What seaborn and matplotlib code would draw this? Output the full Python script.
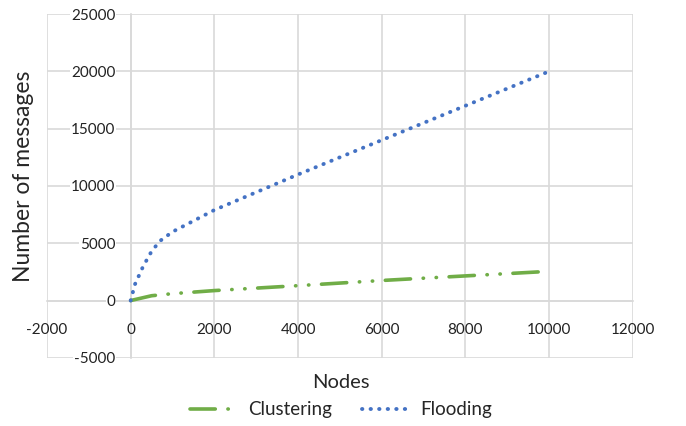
import numpy as np
import pandas as pd
import seaborn as sns
import matplotlib.pyplot as plt

nodes_clu = [0, 500, 1000, 2000, 4000, 6000, 8000, 10000]
clustering = [0, 420, 600, 870, 1300, 1750, 2150, 2550]
nodes_flo = [0, 100, 300, 500, 700, 1000, 2000, 4000, 6000, 8000, 10000]
flooding = [0, 1400, 3000, 4300, 5200, 6000, 7900, 11000, 14000, 17000, 20000]

x_ticks = [-2000, 0, 2000, 4000, 6000, 8000, 10000, 12000]
y_ticks = [-5000, 0, 5000, 10000, 15000, 20000, 25000]

sns.set_style("white")
plt.rcParams['font.family'] = ['Lato', 'DejaVu Sans']
plt.rcParams['axes.unicode_minus'] = False

fig = plt.figure(figsize=(6.86, 4.26), dpi=100)
ax = fig.add_axes([0.0685, 0.16, 0.854, 0.807])

sns.lineplot(x=nodes_clu, y=clustering, ax=ax, color="#70AD47", lw=2.6,
             linestyle=(0, (7, 3.5, 0.1, 3.5, 0.1, 3.5)),
             dash_capstyle="round", label="Clustering", sort=False)
sns.lineplot(x=nodes_flo, y=flooding, ax=ax, color="#4472C4", lw=2.8,
             linestyle=(0, (0.1, 2.1)),
             dash_capstyle="round", label="Flooding", sort=False)

ax.set_xlim(-2000, 12000)
ax.set_ylim(-5000, 25000)
ax.set_xticks(x_ticks)
ax.set_yticks(y_ticks)
ax.grid(True, color="#D9D9D9", lw=1.2)
ax.set_axisbelow(True)

# axes cross at zero like in excel
for s in ["top", "right"]:
    ax.spines[s].set_visible(False)
ax.spines["left"].set_position(("data", 0))
ax.spines["bottom"].set_position(("data", 0))
for s in ["left", "bottom"]:
    ax.spines[s].set_color("#D9D9D9")
    ax.spines[s].set_linewidth(1.2)
    ax.spines[s].set_zorder(0.5)

ax.tick_params(axis="y", length=0, labelsize=11, pad=11, labelcolor="#222222")
ax.tick_params(axis="x", length=0, labelsize=11, pad=16, labelcolor="#222222")
for t in ax.get_yticklabels():
    t.set_bbox(dict(facecolor="white", edgecolor="none", pad=0.5))
ax.set_xlabel("")
ax.set_ylabel("")

fig.text(24 / 686, 1 - 176 / 426, "Number of messages", rotation=90,
         ha="center", va="center", fontsize=16.5)
fig.text(341 / 686, 1 - 382 / 426, "Nodes", ha="center", va="center", fontsize=14.5)
ax.get_legend().remove()
h, l = ax.get_legend_handles_labels()
fig.legend(h, l, loc="center", bbox_to_anchor=(341 / 686, 1 - 410 / 426), ncol=2,
           frameon=False, fontsize=13.5, handlelength=2.6, columnspacing=1.6,
           handletextpad=0.5, borderaxespad=0)

fig.savefig("out.png", dpi=100)
